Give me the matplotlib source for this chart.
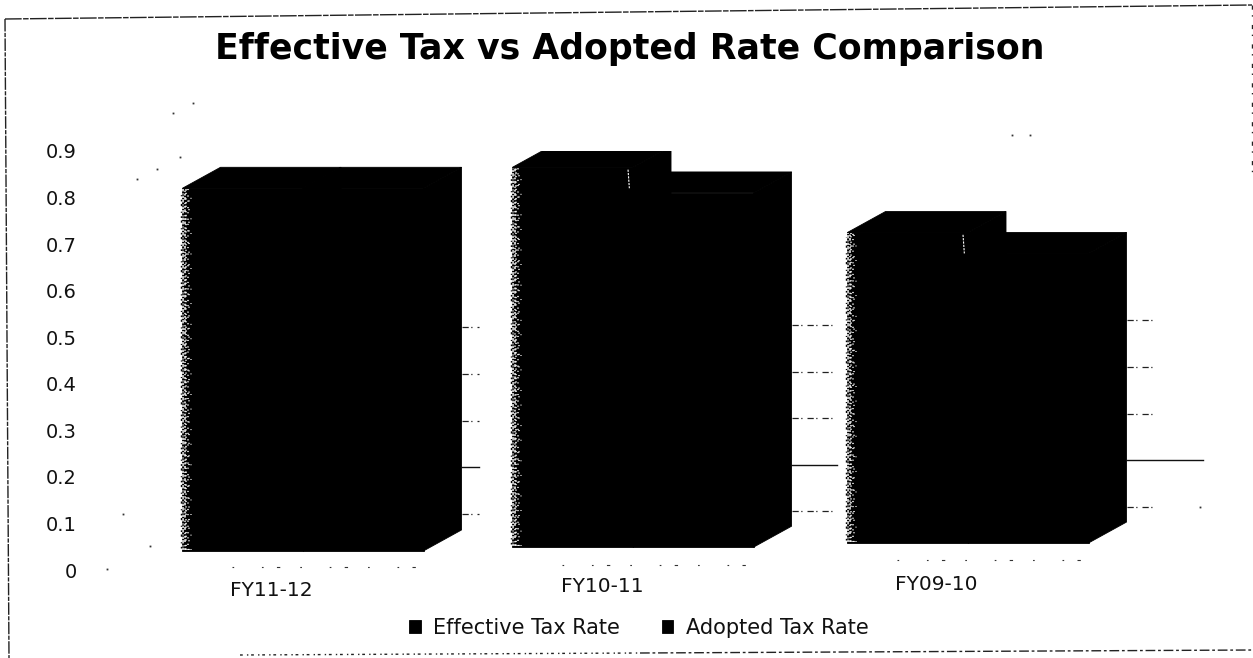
import numpy as np
import matplotlib
matplotlib.use('Agg')
import matplotlib.pyplot as plt
from matplotlib.lines import Line2D

W, H = 1253, 658

categorias = ['FY11-12', 'FY10-11', 'FY09-10']
efectiva = [0.82, 0.865, 0.725]
adoptada = [0.82, 0.81, 0.68]
y_ticks = [0, 0.1, 0.2, 0.3, 0.4, 0.5, 0.6, 0.7, 0.8, 0.9]
y_labels = ['0', '0.1', '0.2', '0.3', '0.4', '0.5', '0.6', '0.7', '0.8', '0.9']

# la hoja salio un poco torcida, cada grupo sube un poco mas
pos_x = np.array([0, 0.994, 2.003])
piso = np.array([0.041, 0.049, 0.058])
subida_pared = np.array([0.021, 0.026, 0.036])
ancho = 0.363
prof_x = 0.1145
prof_y = 0.045
px_x = 332.0  # pixeles por categoria


def fx(px):
    return px / W


def fy(px):
    return 1 - px / H


fig = plt.figure(figsize=(W / 100, H / 100), dpi=100, facecolor='white')
ax = fig.add_axes([fx(85), fy(570), (1235 - 85) / W, 419 / H])
ax.set_xlim((85 - 303) / px_x, (1235 - 303) / px_x)
ax.set_ylim(0, 0.9)
ax.patch.set_visible(False)
for s in ax.spines.values():
    s.set_visible(False)

ax.set_yticks(y_ticks)
ax.set_yticklabels(y_labels, fontsize=14, color='#111111')
ax.tick_params(axis='y', length=0, pad=6)
ax.set_xticks([])

# lineas de la pared del fondo, solo se ven a la derecha de cada grupo
largo_corto = [17, 40, 27]
largo_02 = [17, 45, 76]
for i in range(3):
    x0 = pos_x[i] + ancho + prof_x
    for v in [0.1, 0.3, 0.4, 0.5]:
        ax.plot([x0, x0 + largo_corto[i] / px_x], [v + subida_pared[i]] * 2,
                color='#222222', lw=0.9, dashes=(5, 2, 1, 4), zorder=1)
    ax.plot([x0, x0 + largo_02[i] / px_x], [0.2 + subida_pared[i]] * 2,
            color='#111111', lw=1.0, zorder=1)
    # restos de la linea de 0.9 y del borde del piso
    xs = pos_x[i] - ancho + prof_x
    ax.plot([xs + 0.05, x0], [0.9 + subida_pared[i]] * 2,
            color='#333333', lw=0.8, dashes=(2, 14, 1, 9, 4, 22), zorder=1)
    ax.plot([pos_x[i] - ancho + 0.15, pos_x[i] + ancho + 0.02], [subida_pared[i] - 0.015] * 2,
            color='#333333', lw=0.8, dashes=(1.5, 25, 1.5, 12, 3, 18), zorder=1)

# barras en 3D: frente, tapa y costado
barras = []
for serie, desde, nombre in [(efectiva, -ancho, 'Effective Tax Rate'), (adoptada, 0.0, 'Adopted Tax Rate')]:
    valores = np.array(serie)
    b = ax.bar(pos_x + desde, valores - piso, width=ancho, bottom=piso, align='edge',
               facecolor='black', edgecolor='black', lw=0.6, zorder=3, label=nombre)
    barras.append(b)
    for i in range(3):
        x1 = pos_x[i] + desde
        x2 = x1 + ancho
        ax.fill([x1, x1 + prof_x, x2 + prof_x, x2],
                [valores[i], valores[i] + prof_y, valores[i] + prof_y, valores[i]],
                facecolor='black', edgecolor='black', lw=0.6, zorder=3)
        ax.fill([x2, x2 + prof_x, x2 + prof_x, x2],
                [piso[i], piso[i] + prof_y, valores[i] + prof_y, valores[i]],
                facecolor='black', edgecolor='black', lw=0.6, zorder=3)

# borde izquierdo con ruido de la fotocopia
patrones = [(1.5, 0.8, 0.7, 1.3, 2.2, 0.7), (1.2, 1.2, 0.8, 2, 1.8, 1), (1, 1.6, 0.8, 2.8, 0.8, 1.4),
            (0.7, 2.6, 0.8, 3.5), (0.7, 5, 0.7, 7.5), (0.5, 9, 0.5, 13)]
for i in range(3):
    for k, dash in enumerate(patrones):
        xr = pos_x[i] - ancho + (0.5 + 1.6 * k) / px_x
        ax.plot([xr, xr], [piso[i] + 0.003, efectiva[i] - 0.002], color='white',
                lw=1.1, dashes=dash, zorder=4)
    # motas negras justo fuera del borde
    xn = pos_x[i] - ancho - 1.5 / px_x
    ax.plot([xn, xn], [piso[i] + 0.006, efectiva[i] - 0.01], color='black',
            lw=1.0, dashes=(1.2, 2.5, 0.8, 4, 1.6, 1.8), zorder=4)
    # raya blanca suelta entre las dos series
    if i > 0:
        xm = pos_x[i] - 0.015
        ax.plot([xm, xm + 0.004], [efectiva[i] - 0.005, efectiva[i] - 0.045], color='white',
                lw=0.8, dashes=(2, 1), zorder=4)

etiqueta_x = [271, 602, 936]
etiqueta_y = [591, 587, 584]
for nombre, xp, yp in zip(categorias, etiqueta_x, etiqueta_y):
    ax.text((xp - 303) / px_x, (570 - yp) / (419 / 0.9), nombre, ha='center', va='center',
            fontsize=14.5, color='#111111')

fig.text(fx(630), fy(49), 'Effective Tax vs Adopted Rate Comparison', ha='center', va='center',
         fontsize=25, fontweight='bold', color='black')

fig.legend(handles=barras, loc='center', bbox_to_anchor=(fx(639), fy(628)), ncol=2, frameon=False,
           fontsize=15, handlelength=0.55, handleheight=0.55, handletextpad=0.6,
           columnspacing=2.0, labelcolor='#111111')

# marco del grafico, torcido y con cortes
marco = [([5, 1252], [19, 5], (12, 1, 4, 1)),
         ([5, 9], [19, 658], (9, 1, 3, 1)),
         ([1252, 1252], [5, 175], (3, 4, 1, 6)),
         ([240, 640], [655, 653], (2, 3, 1, 2)),
         ([640, 1253], [653, 650], (7, 2, 2, 2))]
for xs, ys, dash in marco:
    fig.add_artist(Line2D([fx(p) for p in xs], [fy(p) for p in ys], color='#222222',
                          lw=1.0, dashes=dash))

# puntos sueltos del papel
motas_x = [193, 173, 180, 157, 137, 123, 150, 107, 1012, 1030, 1200]
motas_y = [103, 113, 157, 169, 179, 514, 546, 569, 135, 135, 507]
fig.add_artist(Line2D([fx(p) for p in motas_x], [fy(p) for p in motas_y], ls='none',
                      marker='s', ms=1.3, color='#333333', mew=0))

fig.savefig('out.png', dpi=100)
